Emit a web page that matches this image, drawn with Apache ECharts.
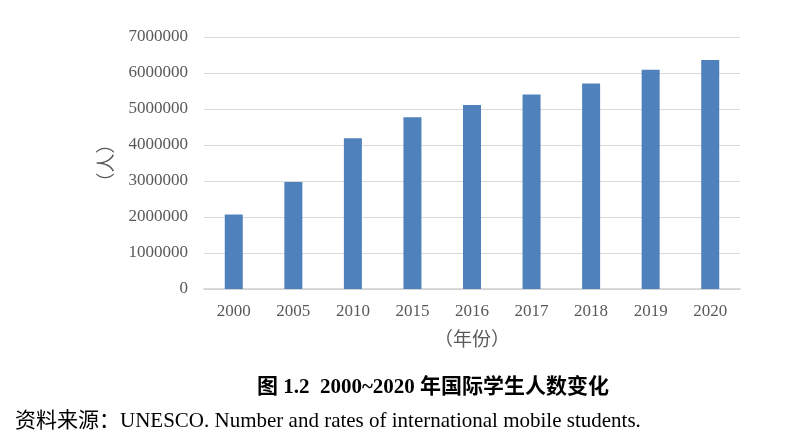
<!DOCTYPE html>
<html>
<head>
<meta charset="utf-8">
<style>html,body{margin:0;padding:0;background:#fff;}#c{width:798px;height:444px;}</style>
<script src="https://cdn.jsdelivr.net/npm/echarts@6/dist/echarts.min.js"></script>
</head>
<body>
<div id="c"></div>
<script>
const categories = ['2000','2005','2010','2015','2016','2017','2018','2019','2020'];
const students = [2070000, 2970000, 4190000, 4770000, 5110000, 5400000, 5710000, 6090000, 6360000];
const yTicks = {min: 0, max: 7000000, interval: 1000000};
const figTitle = '图 1.2  2000~2020 年国际学生人数变化';
const sourceText = '资料来源：UNESCO. Number and rates of international mobile students.';

const serif = '"Liberation Serif", "Times New Roman", "Noto Sans CJK SC", serif';
const chart = echarts.init(document.getElementById('c'));
chart.setOption({
  animation: false,
  backgroundColor: '#fff',
  title: [
    {text: figTitle, left: 428, top: 372, textAlign: 'center',
     textStyle: {fontFamily: serif, fontSize: 21, fontWeight: 'bold', color: '#000'}},
    {text: sourceText, left: 10, top: 406,
     textStyle: {fontFamily: serif, fontSize: 21, fontWeight: 'normal', color: '#000'}}
  ],
  grid: {left: 204, right: 58, top: 37, bottom: 155},
  xAxis: {
    type: 'category', data: categories,
    name: '（年份）', nameLocation: 'middle', nameGap: 43,
    nameTextStyle: {fontFamily: serif, fontSize: 19, color: '#595959'},
    axisLine: {lineStyle: {color: '#d0d0d0', width: 1.5}},
    axisTick: {show: false},
    axisLabel: {fontFamily: serif, fontSize: 17, color: '#595959', margin: 14}
  },
  yAxis: {
    type: 'value', min: yTicks.min, max: yTicks.max, interval: yTicks.interval,
    name: '（人）', nameLocation: 'middle', nameGap: 86, nameRotate: 90,
    nameTextStyle: {fontFamily: serif, fontSize: 19, color: '#595959'},
    axisLine: {show: false}, axisTick: {show: false},
    axisLabel: {fontFamily: serif, fontSize: 17, color: '#595959', margin: 16,
                formatter: v => String(v)},
    splitLine: {lineStyle: {color: '#d9d9d9', width: 1}}
  },
  series: [{
    type: 'bar', data: students, barWidth: 18,
    itemStyle: {color: '#4f81bd'}
  }]
});
</script>
</body>
</html>
